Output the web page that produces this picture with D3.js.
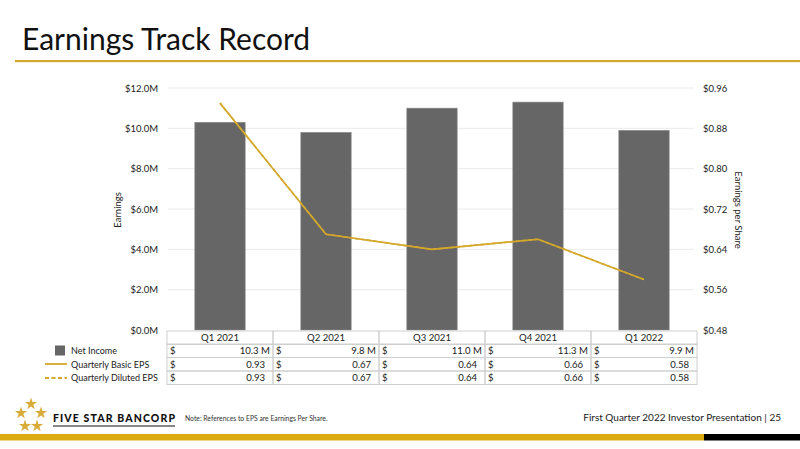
<!DOCTYPE html>
<html>
<head>
  <script src="https://d3js.org/d3.v7.min.js"></script>
  <style>
    body { margin: 0; background: #fff; }
    svg { display: block; font-family: Lato, "Open Sans", sans-serif; }
    .tick text { fill: #222; font-size: 9.5px; }
    .grid line { stroke: #e4e4e4; stroke-width: 0.8px; }
    .cell { fill: none; stroke: #cfcfcf; stroke-width: 1px; }
    .tbl { fill: #222; font-size: 9.6px; }
    .leg { fill: #222; font-size: 9px; }
  </style>
</head>
<body>
  <svg id="chart" width="800" height="449"></svg>
  <script>
    var quarters = ["Q1 2021", "Q2 2021", "Q3 2021", "Q4 2021", "Q1 2022"];
    var netIncome = [10.3, 9.8, 11.0, 11.3, 9.9];       // $M
    var basicEps = [0.93, 0.67, 0.64, 0.66, 0.58];
    var dilutedEps = [0.93, 0.67, 0.64, 0.66, 0.58];
    var leftTicks = [0, 2, 4, 6, 8, 10, 12];
    var rightTicks = [0.48, 0.56, 0.64, 0.72, 0.80, 0.88, 0.96];

    var gold = "#d4a82a";
    var svg = d3.select("#chart");

    // title + rule
    svg.append("text").attr("x", 22).attr("y", 50)
      .text("Earnings Track Record")
      .style("font-size", "30px").style("fill", "#111");
    svg.append("rect").attr("x", 15).attr("y", 60).attr("width", 785).attr("height", 2.2).style("fill", gold);

    var plot = { left: 167, right: 697, top: 88, bottom: 330 };

    var x = d3.scaleBand().domain(quarters).range([plot.left, plot.right]).padding(0);
    var yL = d3.scaleLinear().domain([0, 12]).range([plot.bottom, plot.top]);
    var yR = d3.scaleLinear().domain([0.48, 0.96]).range([plot.bottom, plot.top]);

    // gridlines
    svg.append("g").attr("class", "grid")
      .selectAll("line").data(leftTicks.slice(1)).join("line")
      .attr("x1", plot.left + 1).attr("x2", plot.right - 3)
      .attr("y1", function(d) { return yL(d); }).attr("y2", function(d) { return yL(d); });

    // axes (no domain lines, no tick marks)
    var gl = svg.append("g").attr("transform", "translate(" + (plot.left - 6) + ",0)")
      .call(d3.axisLeft(yL).tickValues(leftTicks).tickSize(0).tickPadding(3)
        .tickFormat(function(d) { return "$" + d.toFixed(1) + "M"; }));
    gl.select(".domain").remove();

    var gr = svg.append("g").attr("transform", "translate(" + (plot.right + 3) + ",0)")
      .call(d3.axisRight(yR).tickValues(rightTicks).tickSize(0).tickPadding(3)
        .tickFormat(function(d) { return "$" + d.toFixed(2); }));
    gr.select(".domain").remove();

    svg.selectAll(".tick text").style("font-family", "Lato, sans-serif");

    // axis titles
    svg.append("text").attr("transform", "translate(121,210) rotate(-90)")
      .attr("text-anchor", "middle").text("Earnings").style("font-size", "9.5px").style("fill", "#222");
    svg.append("text").attr("transform", "translate(735,210) rotate(90)")
      .attr("text-anchor", "middle").text("Earnings per Share").style("font-size", "9.5px").style("fill", "#222");

    // bars
    var bw = x.bandwidth() * 0.475;
    svg.append("g").selectAll("rect").data(netIncome).join("rect")
      .attr("x", function(d, i) { return x(quarters[i]) + (x.bandwidth() - bw) / 2; })
      .attr("y", function(d) { return yL(d); })
      .attr("width", bw)
      .attr("height", function(d) { return plot.bottom - yL(d); })
      .style("fill", "#666666")
      .style("stroke", "#8a8a8a").style("stroke-width", 0.6);

    // eps lines
    var line = d3.line()
      .x(function(d, i) { return x(quarters[i]) + x.bandwidth() / 2; })
      .y(function(d) { return yR(d); });
    svg.append("path").datum(basicEps).attr("d", line)
      .style("fill", "none").style("stroke", gold).style("stroke-width", 1.6);
    svg.append("path").datum(dilutedEps).attr("d", line)
      .style("fill", "none").style("stroke", gold).style("stroke-width", 1.6)
      .style("stroke-dasharray", "4,2");

    // data table
    var rowTop = [331, 344, 357.5, 371];
    var rowH = 13.5;
    var tbl = svg.append("g");
    quarters.forEach(function(q, i) {
      var cx = x(q), w = x.bandwidth();
      for (var r = 0; r < 4; r++) {
        tbl.append("rect").attr("class", "cell")
          .attr("x", cx).attr("y", rowTop[r]).attr("width", w).attr("height", rowH);
      }
      tbl.append("text").attr("class", "tbl").attr("x", cx + w / 2).attr("y", rowTop[0] + 10)
        .attr("text-anchor", "middle").text(q);
      var vals = [netIncome[i].toFixed(1) + " M", basicEps[i].toFixed(2) + "  ", dilutedEps[i].toFixed(2) + "  "];
      vals.forEach(function(v, r) {
        var ty = rowTop[r + 1] + 10;
        tbl.append("text").attr("class", "tbl").attr("x", cx + 3).attr("y", ty).text("$");
        tbl.append("text").attr("class", "tbl").attr("x", cx + w - 3).attr("y", ty)
          .attr("text-anchor", "end").style("white-space", "pre").attr("xml:space", "preserve").text(v);
      });
    });

    // legend keys
    var lg = svg.append("g");
    lg.append("rect").attr("x", 55).attr("y", 345.5).attr("width", 10).attr("height", 10).style("fill", "#666666");
    lg.append("line").attr("x1", 45).attr("x2", 67).attr("y1", 364).attr("y2", 364)
      .style("stroke", gold).style("stroke-width", 1.8);
    lg.append("line").attr("x1", 45).attr("x2", 67).attr("y1", 378).attr("y2", 378)
      .style("stroke", gold).style("stroke-width", 1.8).style("stroke-dasharray", "4,2.5");
    ["Net Income", "Quarterly Basic EPS", "Quarterly Diluted EPS"].forEach(function(t, r) {
      lg.append("text").attr("class", "leg").attr("x", 71).attr("y", rowTop[r + 1] + 10).text(t);
    });

    // footer logo: five stars
    var star = d3.symbol().type(d3.symbolStar).size(46);
    [[31, 404], [21, 413], [41, 413], [25, 426], [37, 426]].forEach(function(p) {
      svg.append("path").attr("d", star).attr("transform", "translate(" + p[0] + "," + p[1] + ")")
        .style("fill", "#d9ac3a");
    });
    svg.append("text").attr("x", 53).attr("y", 422).text("FIVE STAR BANCORP")
      .attr("textLength", 122).attr("lengthAdjust", "spacing")
      .style("font-size", "10.5px").style("font-weight", "900").style("fill", "#111");
    svg.append("rect").attr("x", 53).attr("y", 425.5).attr("width", 122).attr("height", 1).style("fill", "#111");
    svg.append("text").attr("x", 185).attr("y", 421).text("Note: References to EPS are Earnings Per Share.")
      .style("font-size", "6.8px").style("fill", "#333");
    svg.append("text").attr("x", 781).attr("y", 421).attr("text-anchor", "end")
      .text("First Quarter 2022 Investor Presentation |  25")
      .style("font-size", "10px").style("fill", "#222");

    // footer bar
    svg.append("rect").attr("x", 0).attr("y", 434).attr("width", 704).attr("height", 6.5).style("fill", "#dcab12");
    svg.append("rect").attr("x", 704).attr("y", 434).attr("width", 96).attr("height", 6.5).style("fill", "#000");
  </script>
</body>
</html>
